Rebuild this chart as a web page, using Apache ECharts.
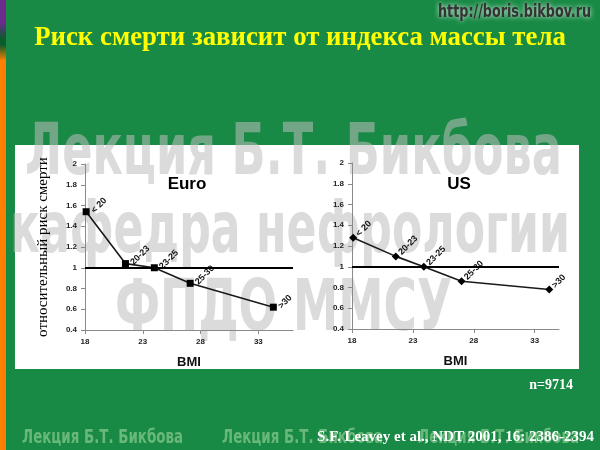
<!DOCTYPE html>
<html><head><meta charset="utf-8">
<script src="https://cdn.jsdelivr.net/npm/echarts@6/dist/echarts.min.js"></script>
<style>html,body{margin:0;padding:0;background:#188a45}#c{width:600px;height:450px}</style>
</head><body><div id="c"></div>
<script>
// ---- data ----
const categories = ['< 20', '20-23', '23-25', '25-30', '>30'];
const euroBmi  = [18.1, 21.5, 24.0, 27.1, 34.3];
const euroRisk = [1.54, 1.04, 1.00, 0.85, 0.62];
const usBmi    = [18.1, 21.6, 23.9, 27.0, 34.2];
const usRisk   = [1.28, 1.10, 1.00, 0.86, 0.78];
const xTickValues = [18, 23, 28, 33];
const panelTitles = ['Euro', 'US'];
const refValue = 1;
const refIndex = 2;
const mainTitle = 'Риск смерти зависит от индекса массы тела';
const yName = 'относительный риск смерти';
const xName = 'BMI';
const sampleText = 'n=9714';
const citation = 'S.F. Leavey et al., NDT 2001, 16: 2386-2394';
const watermarkLines = ['Лекция Б.Т. Бикбова', 'кафедра нефрологии', 'ФПДО ММСУ'];
const footerMark = 'Лекция Б.Т. Бикбова';
const url = 'http://boris.bikbov.ru';

// ---- helpers ----
const ctx = document.createElement('canvas').getContext('2d');
function measure(text, font) { ctx.font = font; return ctx.measureText(text).width; }
const WM_FONT = "'Liberation Sans Narrow','DejaVu Sans Condensed','Liberation Sans',sans-serif";
const SANS = "'Liberation Sans',Arial,sans-serif";
const SERIF = "'Liberation Serif','Times New Roman',serif";

function fitScale(text, size, family, target) {
  return target / measure(text, 'bold ' + size + 'px ' + family);
}

const titleSize = 27 * 532 / measure(mainTitle, 'bold 27px ' + SERIF);

function wm(text, x, y, size, width) {
  return { type: 'text', z: -1, x: x, y: y, scaleX: fitScale(text, size, WM_FONT, width),
    style: { text: text, font: 'bold ' + size + 'px ' + WM_FONT, fill: 'rgba(190,190,190,0.55)',
      textVerticalAlign: 'middle' } };
}

const mk = (xs, ys) => xs.map((x, i) => [x, ys[i], categories[i]]);

function xAxis(gi, max) {
  return { gridIndex: gi, type: 'value', min: 18, max: max, interval: 5,
    axisLine: { show: true, lineStyle: { color: '#8a8a8a', width: 1 } },
    axisTick: { show: true, customValues: xTickValues, length: 4, lineStyle: { color: '#8a8a8a' } },
    axisLabel: { customValues: xTickValues, fontSize: 8, fontWeight: 'bold', color: '#222', margin: 8, fontFamily: SANS },
    splitLine: { show: false },
    name: xName, nameLocation: 'middle', nameGap: 26,
    nameTextStyle: { fontSize: 13, fontWeight: 'bold', color: '#111', fontFamily: SANS } };
}
function yAxis(gi, withName) {
  const a = { gridIndex: gi, type: 'value', min: 0.4, max: 2, interval: 0.2,
    axisLine: { show: true, lineStyle: { color: '#8a8a8a', width: 1 } },
    axisTick: { show: true, length: 4, lineStyle: { color: '#8a8a8a' } },
    axisLabel: { fontSize: 8, fontWeight: 'bold', color: '#222', margin: 8, fontFamily: SANS,
      formatter: v => String(Math.round(v * 10) / 10) },
    splitLine: { show: false } };
  if (withName) {
    a.name = yName; a.nameLocation = 'middle'; a.nameGap = 34;
    a.nameTextStyle = { fontSize: 15, color: '#000', fontFamily: SERIF };
  }
  return a;
}
function dataSeries(gi, data, symbol, size, labelOffset) {
  return { type: 'line', xAxisIndex: gi, yAxisIndex: gi, data: data, symbol: symbol, symbolSize: size,
    lineStyle: { color: '#1a1a1a', width: 1.6 }, itemStyle: { color: '#000' },
    label: { show: true, formatter: p => p.data[2], position: 'right', distance: 3, rotate: 45,
      offset: labelOffset, fontSize: 9, fontWeight: 'bold', color: '#111', fontFamily: SANS },
    markLine: { silent: true, symbol: ['none', 'none'], label: { show: false },
      lineStyle: { color: '#000', width: 2, type: 'solid' }, data: [{ yAxis: refValue }] },
    z: 3 };
}
function refSeries(gi, x, y, dist) {
  return { type: 'scatter', xAxisIndex: gi, yAxisIndex: gi, data: [[x, y]], symbolSize: 1,
    itemStyle: { opacity: 0 },
    label: { show: true, formatter: '(Ref)', position: 'bottom', distance: dist, fontSize: 12,
      fontWeight: 'bold', color: '#111', fontFamily: SANS }, z: 4 };
}

const option = {
  animation: false,
  backgroundColor: '#188a45',
  title: [
    { text: panelTitles[0], left: 187, top: 176, textAlign: 'center', padding: 0,
      textStyle: { fontSize: 17, fontWeight: 'bold', color: '#000', fontFamily: SANS } },
    { text: panelTitles[1], left: 459, top: 176, textAlign: 'center', padding: 0,
      textStyle: { fontSize: 17, fontWeight: 'bold', color: '#000', fontFamily: SANS } }
  ],
  grid: [
    { left: 85, top: 164, width: 208, height: 166 },
    { left: 352, top: 163, width: 207, height: 166 }
  ],
  xAxis: [xAxis(0, 36), xAxis(1, 35)],
  yAxis: [yAxis(0, true), yAxis(1, false)],
  series: [
    dataSeries(0, mk(euroBmi, euroRisk), 'rect', 7, [0, 0]),
    dataSeries(1, mk(usBmi, usRisk), 'diamond', 8, [0, -4]),
    refSeries(0, euroBmi[refIndex], euroRisk[refIndex], 10),
    refSeries(1, usBmi[refIndex], usRisk[refIndex], 6)
  ],
  graphic: [
    { type: 'rect', z: -3, shape: { x: 0, y: 0, width: 6, height: 450 },
      style: { fill: new echarts.graphic.LinearGradient(0, 0, 0, 1, [
        { offset: 0, color: '#6b2a8c' }, { offset: 0.05, color: '#6b2a8c' },
        { offset: 0.085, color: '#0d5a2c' }, { offset: 0.1, color: '#0d5a2c' },
        { offset: 0.135, color: '#ff7f00' }, { offset: 1, color: '#ff7f00' }]) } },
    { type: 'rect', z: -3, shape: { x: 15, y: 145, width: 564, height: 224 }, style: { fill: '#ffffff' } },
    wm(watermarkLines[0], 25, 155, 72, 537),
    wm(watermarkLines[1], 10, 233, 72, 560),
    wm(watermarkLines[2], 115, 311, 72, 337),
    { type: 'text', z: 5, x: 300, y: 38,
      style: { text: mainTitle, font: 'bold ' + titleSize + 'px ' + SERIF, fill: '#ffff00',
        textAlign: 'center', textVerticalAlign: 'middle' } },
    { type: 'text', z: 5, x: 438, y: 13, scaleX: fitScale(url, 17, WM_FONT, 153),
      style: { text: url, font: 'bold 17px ' + WM_FONT, fill: '#333333',
        textVerticalAlign: 'middle', textShadowColor: 'rgba(255,255,255,0.9)', textShadowBlur: 5 } },
    { type: 'text', z: -1, x: 22, y: 438, scaleX: fitScale(footerMark, 19, WM_FONT, 161),
      style: { text: footerMark, font: 'bold 19px ' + WM_FONT, fill: '#68b87a', textVerticalAlign: 'middle' } },
    { type: 'text', z: -1, x: 222, y: 438, scaleX: fitScale(footerMark, 19, WM_FONT, 161),
      style: { text: footerMark, font: 'bold 19px ' + WM_FONT, fill: '#68b87a', textVerticalAlign: 'middle' } },
    { type: 'text', z: -1, x: 418, y: 438, scaleX: fitScale(footerMark, 19, WM_FONT, 161),
      style: { text: footerMark, font: 'bold 19px ' + WM_FONT, fill: '#68b87a', textVerticalAlign: 'middle' } },
    { type: 'text', z: 5, x: 573, y: 385,
      style: { text: sampleText, font: 'bold 14px ' + SERIF, fill: '#ffffff', textAlign: 'right', textVerticalAlign: 'middle' } },
    { type: 'text', z: 5, x: 594, y: 437,
      style: { text: citation, font: 'bold 15px ' + SERIF, fill: '#ffffff', textAlign: 'right', textVerticalAlign: 'middle' } }
  ]
};
const chart = echarts.init(document.getElementById('c'), null, { renderer: 'canvas' });
chart.setOption(option);
</script></body></html>
